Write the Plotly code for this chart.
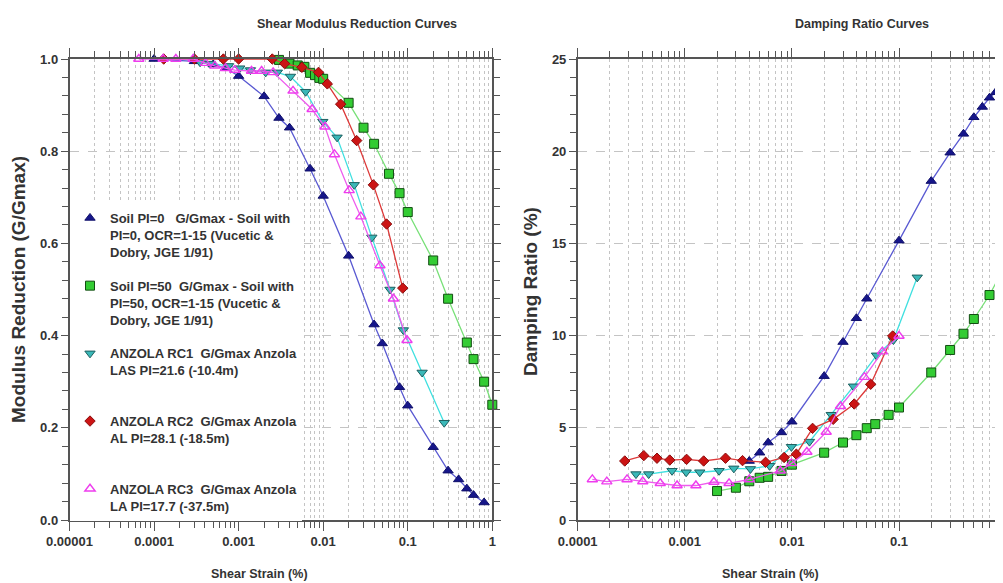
import plotly.graph_objects as go

# ---------------- data ----------------
# Shear modulus reduction (G/Gmax) vs shear strain (%)
pi0_gx = [0.0001, 0.0003, 0.0005, 0.0007, 0.001, 0.002, 0.003, 0.004, 0.007, 0.01, 0.02, 0.04, 0.05, 0.08, 0.1, 0.2, 0.3, 0.4, 0.5, 0.6, 0.8]
pi0_g = [1.0, 0.995, 0.988, 0.980, 0.963, 0.919, 0.872, 0.851, 0.762, 0.703, 0.573, 0.424, 0.383, 0.288, 0.248, 0.158, 0.107, 0.088, 0.068, 0.054, 0.038]

pi50_gx = [0.003, 0.004, 0.005, 0.006, 0.007, 0.008, 0.009, 0.01, 0.02, 0.03, 0.04, 0.06, 0.08, 0.1, 0.2, 0.3, 0.5, 0.6, 0.8, 1.0]
pi50_g = [0.998, 0.990, 0.986, 0.983, 0.970, 0.965, 0.959, 0.957, 0.905, 0.851, 0.816, 0.751, 0.709, 0.668, 0.563, 0.480, 0.385, 0.349, 0.300, 0.250]

rc1_gx = [0.00035, 0.00046, 0.00076, 0.00103, 0.00138, 0.00209, 0.00287, 0.0041, 0.0062, 0.0099, 0.0146, 0.0233, 0.0376, 0.0617, 0.0887, 0.148, 0.27]
rc1_g = [0.993, 0.990, 0.985, 0.980, 0.976, 0.971, 0.971, 0.962, 0.929, 0.864, 0.830, 0.727, 0.613, 0.500, 0.412, 0.320, 0.211]

rc2_gx = [0.00013, 0.0003, 0.00066, 0.001, 0.0025, 0.0035, 0.0056, 0.0088, 0.0112, 0.0161, 0.0249, 0.0392, 0.0562, 0.0873]
rc2_g = [1.0, 1.0, 1.0, 1.0, 1.0, 0.990, 0.982, 0.971, 0.946, 0.902, 0.823, 0.727, 0.642, 0.503]

rc3_gx = [0.000066, 0.000128, 0.000181, 0.00029, 0.000406, 0.000523, 0.0007, 0.0009, 0.00142, 0.00187, 0.00256, 0.0044, 0.0074, 0.0105, 0.0136, 0.0203, 0.0279, 0.0469, 0.0678, 0.098]
rc3_g = [1.0, 1.0, 1.0, 1.0, 0.991, 0.985, 0.980, 0.976, 0.974, 0.974, 0.971, 0.931, 0.891, 0.853, 0.793, 0.715, 0.658, 0.552, 0.480, 0.390]

# Damping ratio (%) vs shear strain (%)
pi0_dx = [0.004, 0.005, 0.006, 0.008, 0.01, 0.02, 0.03, 0.04, 0.05, 0.1, 0.2, 0.3, 0.4, 0.5, 0.6, 0.7, 0.8, 0.9]
pi0_d = [3.2, 3.65, 4.2, 4.75, 5.33, 7.8, 9.65, 10.94, 12.0, 15.15, 18.38, 19.92, 20.94, 21.84, 22.4, 22.9, 23.2, 23.63]

pi50_dx = [0.002, 0.003, 0.004, 0.005, 0.006, 0.008, 0.01, 0.02, 0.03, 0.04, 0.05, 0.06, 0.08, 0.1, 0.2, 0.3, 0.4, 0.5, 0.7, 1.0]
pi50_d = [1.57, 1.75, 2.1, 2.29, 2.34, 2.66, 3.0, 3.65, 4.2, 4.6, 4.98, 5.2, 5.7, 6.1, 8.0, 9.22, 10.1, 10.9, 12.2, 13.9]

rc1_dx = [0.00035, 0.00046, 0.00076, 0.00103, 0.00138, 0.00209, 0.00287, 0.0041, 0.0062, 0.0099, 0.0146, 0.0233, 0.0376, 0.0617, 0.0887, 0.148]
rc1_d = [2.49, 2.49, 2.67, 2.59, 2.59, 2.67, 2.80, 2.77, 2.94, 3.97, 4.25, 5.71, 7.25, 8.93, 9.76, 13.16]

rc2_dx = [0.000275, 0.000414, 0.00055, 0.000724, 0.00104, 0.0015, 0.0024, 0.00346, 0.00568, 0.00846, 0.011, 0.0156, 0.0243, 0.0382, 0.0544, 0.0873]
rc2_d = [3.2, 3.49, 3.35, 3.25, 3.29, 3.2, 3.35, 3.22, 3.13, 3.39, 3.57, 4.97, 5.46, 6.29, 7.36, 9.98]

rc3_dx = [0.000137, 0.000187, 0.000289, 0.000405, 0.00059, 0.000847, 0.00127, 0.00187, 0.00259, 0.004, 0.0078, 0.0099, 0.0138, 0.0209, 0.0284, 0.0476, 0.07, 0.1]
rc3_d = [2.2, 2.08, 2.2, 2.09, 1.99, 1.87, 1.87, 2.06, 1.99, 2.2, 2.67, 3.07, 3.69, 4.77, 6.17, 7.75, 9.13, 9.98]

legend_names = [
    "Soil PI=0   G/Gmax - Soil with<br>PI=0, OCR=1-15 (Vucetic &<br>Dobry, JGE 1/91)",
    "Soil PI=50  G/Gmax - Soil with<br>PI=50, OCR=1-15 (Vucetic &<br>Dobry, JGE 1/91)",
    "ANZOLA RC1  G/Gmax Anzola<br>LAS PI=21.6 (-10.4m)<br> ",
    "ANZOLA RC2  G/Gmax Anzola<br>AL PI=28.1 (-18.5m)<br> ",
    "ANZOLA RC3  G/Gmax Anzola<br>LA PI=17.7 (-37.5m)",
]

left_tickvals = [1e-5, 1e-4, 1e-3, 1e-2, 1e-1, 1]
left_ticktext = ["0.00001", "0.0001", "0.001", "0.01", "0.1", "1"]
right_tickvals = [1e-4, 1e-3, 1e-2, 1e-1, 1]
right_ticktext = ["0.0001", "0.001", "0.01", "0.1", "1"]

# ---------------- styles ----------------
REG = "Liberation Sans, Arial, sans-serif"
TXT = "#333333"
AX = "#555555"

styles = [
    dict(line=dict(color="#5a5ad2", width=1.3),
         marker=dict(symbol="triangle-up", size=9, color="#16168a", line=dict(color="#10106a", width=1))),
    dict(line=dict(color="#78e078", width=1.3),
         marker=dict(symbol="square", size=9, color="#33cc33", line=dict(color="#134d13", width=1))),
    dict(line=dict(color="#40e0e0", width=1.3),
         marker=dict(symbol="triangle-down", size=9, color="#3ab8b8", line=dict(color="#1d5f5f", width=1))),
    dict(line=dict(color="#dd3a3a", width=1.3),
         marker=dict(symbol="diamond", size=8, color="#cc1414", line=dict(color="#8a0c0c", width=1))),
    dict(line=dict(color="#ee5cee", width=1.3),
         marker=dict(symbol="triangle-up-open", size=9, color="#ee3cee", line=dict(color="#ee3cee", width=1.4))),
]

g_sets = [(pi0_gx, pi0_g), (pi50_gx, pi50_g), (rc1_gx, rc1_g), (rc2_gx, rc2_g), (rc3_gx, rc3_g)]
d_sets = [(pi0_dx, pi0_d), (pi50_dx, pi50_d), (rc1_dx, rc1_d), (rc2_dx, rc2_d), (rc3_dx, rc3_d)]

fig = go.Figure()
for i, ((gx, gy), st) in enumerate(zip(g_sets, styles)):
    fig.add_trace(go.Scatter(x=gx, y=gy, mode="lines+markers", showlegend=False,
                             xaxis="x", yaxis="y", cliponaxis=False, **st))
for i, ((dx, dy), st) in enumerate(zip(d_sets, styles)):
    fig.add_trace(go.Scatter(x=dx, y=dy, mode="lines+markers", showlegend=False,
                             xaxis="x2", yaxis="y2", cliponaxis=False, **st))
# legend entries (marker only, like the reference legend)
for i, (st, nm) in enumerate(zip(styles, legend_names)):
    fig.add_trace(go.Scatter(x=[None], y=[None], mode="markers", name=nm, legendgroup=f"g{i}",
                             marker=st["marker"], xaxis="x", yaxis="y"))

# the page body has an 8px margin: work in window pixels and convert
OFF = 8
W, H = 1003 - OFF, 583 - OFF
def px(x):
    return (x - OFF) / W
def py(y):
    return (H - (y - OFF)) / H

tickfont = dict(family=REG, size=13, color=TXT, weight="bold")
common_x = dict(type="log", showline=True, linecolor=AX, linewidth=1.5, mirror="allticks",
                ticks="outside", ticklen=9, tickcolor=AX, tickwidth=1.2,
                tickmode="array", tickfont=tickfont, automargin=False,
                showgrid=True, gridcolor="#c4c4c4", griddash="dot", gridwidth=1,
                minor=dict(dtick="D1", ticks="outside", ticklen=6, tickcolor=AX, tickwidth=1,
                           showgrid=True, gridcolor="#c4c4c4", griddash="dot", gridwidth=1),
                zeroline=False)
common_y = dict(showline=True, linecolor=AX, linewidth=1.5, automargin=False,
                ticks="outside", ticklen=7, tickcolor=AX, tickwidth=1.2, tickfont=tickfont,
                showgrid=True, gridcolor="#c4c4c4", griddash="dash", gridwidth=1,
                zeroline=False)

ydom = [py(520), py(59)]
right_end = -4 + (1003 - 577.7) / 107.1
fig.update_layout(
    width=W, height=H, margin=dict(l=0, r=0, t=0, b=0, autoexpand=False),
    paper_bgcolor="white", plot_bgcolor="white",
    xaxis=dict(domain=[px(69.5), px(492.3)], range=[-5, 0], anchor="y",
               tickvals=left_tickvals, ticktext=left_ticktext, **common_x),
    yaxis=dict(domain=ydom, range=[0, 1.0], anchor="x", dtick=0.2, tickformat=".1f", mirror="allticks",
               minor=dict(dtick=0.04, ticks="outside", ticklen=6, tickcolor=AX, showgrid=False),
               **common_y),
    xaxis2=dict(domain=[px(577.7), 1.0], range=[-4, right_end], anchor="y2",
                tickvals=right_tickvals, ticktext=right_ticktext, **common_x),
    yaxis2=dict(domain=ydom, range=[0, 25], anchor="x2", dtick=5, mirror=False,
                minor=dict(dtick=1, ticks="outside", ticklen=6, tickcolor=AX, showgrid=False),
                **common_y),
    showlegend=True,
    legend=dict(x=px(70), y=py(203), xanchor="left", yanchor="top", bgcolor="white",
                borderwidth=0, font=dict(family=REG, size=13, color=TXT, weight="bold"),
                valign="top", tracegroupgap=14, itemwidth=30),
)

title_font = dict(family=REG, size=12.5, color=TXT, weight="bold")
ann = [
    dict(text="Shear Modulus Reduction Curves", x=px(357), y=py(24)),
    dict(text="Damping Ratio Curves", x=px(862), y=py(24)),
    dict(text="Shear Strain (%)", x=px(260), y=py(574)),
    dict(text="Shear Strain (%)", x=px(770), y=py(574)),
]
for a in ann:
    fig.add_annotation(xref="paper", yref="paper", showarrow=False, xanchor="center", yanchor="middle",
                       font=title_font, **a)
ytitle_font = dict(family=REG, size=19, color=TXT, weight="bold")
fig.add_annotation(text="Modulus Reduction (G/Gmax)", xref="paper", yref="paper", x=px(18), y=py(290),
                   showarrow=False, textangle=-90, font=ytitle_font, xanchor="center", yanchor="middle")
fig.add_annotation(text="Damping Ratio (%)", xref="paper", yref="paper", x=px(531), y=py(292),
                   showarrow=False, textangle=-90, font=ytitle_font, xanchor="center", yanchor="middle")

fig.write_html("out.html")
